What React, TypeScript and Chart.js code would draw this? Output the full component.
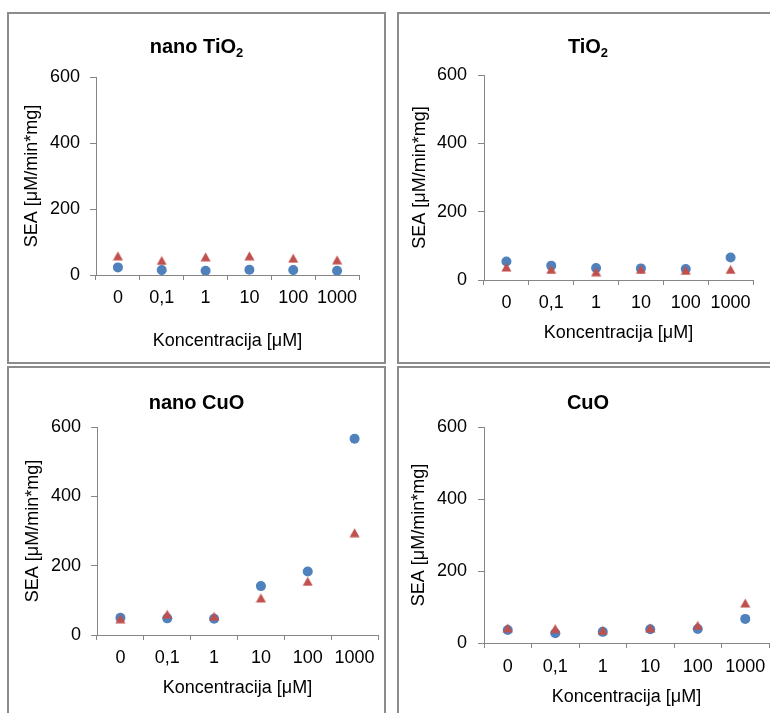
import { useEffect, useRef } from "react";
import { Chart, registerables } from "chart.js";

Chart.register(...registerables);

// Concentration categories on the x axis
const categories = ["0", "0,1", "1", "10", "100", "1000"];
const yMin = 0;
const yMax = 600;
const yStep = 200;

// SEA values per material (blue circles / red triangles)
const nanoTiO2Blue = [23, 15, 13, 16, 15, 13];
const nanoTiO2Red = [58, 44, 55, 58, 51, 46];
const tiO2Blue = [54, 42, 35, 34, 32, 66];
const tiO2Red = [38, 31, 24, 31, 28, 31];
const nanoCuOBlue = [50, 48, 47, 141, 183, 566];
const nanoCuORed = [47, 60, 54, 107, 155, 295];
const cuOBlue = [36, 27, 31, 38, 39, 67];
const cuORed = [42, 40, 35, 42, 49, 111];

const xAxisTitle = "Koncentracija [μM]";
const yAxisTitle = "SEA [μM/min*mg]";

const BLUE = "#4F81BD";
const RED = "#C0504D";
const AXIS_GRAY = "#868686";
const FONT_FAMILY = "'Liberation Sans', Arial, Helvetica, sans-serif";
const TEXT_SIZE = 18;
const LINE_HEIGHT = TEXT_SIZE * 1.2;

type TitlePart = { text: string; sub?: boolean };

type PanelLayout = {
  box: { left: number; top: number; width: number; height: number };
  area: { left: number; top: number; right: number; bottom: number };
  yTitleX: number;
  xTitleGap: number;
  titleBaseline: number;
  yTickPad: number;
  xTickPad: number;
};

type PanelSpec = {
  title: TitlePart[];
  blue: number[];
  red: number[];
  layout: PanelLayout;
};

// Bold panel heading with a lowered, smaller subscript part
const panelTitlePlugin = {
  id: "panelTitle",
  afterDraw(chart: any, _args: any, opts: any) {
    const parts: TitlePart[] = opts.parts || [];
    const ctx: CanvasRenderingContext2D = chart.ctx;
    const mainFont = `bold 20px ${FONT_FAMILY}`;
    const subFont = `bold 13px ${FONT_FAMILY}`;
    ctx.save();
    const widths = parts.map((p) => {
      ctx.font = p.sub ? subFont : mainFont;
      return ctx.measureText(p.text).width;
    });
    const total = widths.reduce((a, b) => a + b, 0);
    let x = chart.width / 2 - total / 2;
    ctx.fillStyle = "#000";
    ctx.textAlign = "left";
    ctx.textBaseline = "alphabetic";
    parts.forEach((p, i) => {
      ctx.font = p.sub ? subFont : mainFont;
      ctx.fillText(p.text, x, opts.baseline + (p.sub ? 4 : 0));
      x += widths[i];
    });
    ctx.restore();
  },
};

function makeTriangle(color: string): HTMLCanvasElement {
  const c = document.createElement("canvas");
  c.width = 11;
  c.height = 10;
  const g = c.getContext("2d")!;
  g.fillStyle = color;
  g.beginPath();
  g.moveTo(5.5, 0.5);
  g.lineTo(10.5, 9.5);
  g.lineTo(0.5, 9.5);
  g.closePath();
  g.fill();
  return c;
}

const panels: PanelSpec[] = [
  {
    title: [{ text: "nano TiO" }, { text: "2", sub: true }],
    blue: nanoTiO2Blue,
    red: nanoTiO2Red,
    layout: {
      box: { left: 7, top: 12, width: 379, height: 352 },
      area: { left: 87, top: 63, right: 350, bottom: 261 },
      yTitleX: 22.7,
      xTitleGap: 65.7,
      titleBaseline: 39.3,
      yTickPad: 10,
      xTickPad: 7,
    },
  },
  {
    title: [{ text: "TiO" }, { text: "2", sub: true }],
    blue: tiO2Blue,
    red: tiO2Red,
    layout: {
      box: { left: 397, top: 12, width: 382, height: 352 },
      area: { left: 85, top: 61, right: 354, bottom: 266 },
      yTitleX: 20.7,
      xTitleGap: 53.3,
      titleBaseline: 39.3,
      yTickPad: 11,
      xTickPad: 7,
    },
  },
  {
    title: [{ text: "nano CuO" }],
    blue: nanoCuOBlue,
    red: nanoCuORed,
    layout: {
      box: { left: 7, top: 366, width: 379, height: 360 },
      area: { left: 88, top: 59, right: 369, bottom: 267 },
      yTitleX: 24.3,
      xTitleGap: 53.3,
      titleBaseline: 41.3,
      yTickPad: 10,
      xTickPad: 7,
    },
  },
  {
    title: [{ text: "CuO" }],
    blue: cuOBlue,
    red: cuORed,
    layout: {
      box: { left: 397, top: 366, width: 382, height: 360 },
      area: { left: 85, top: 59, right: 370, bottom: 275 },
      yTitleX: 20.3,
      xTitleGap: 53.7,
      titleBaseline: 41,
      yTickPad: 11,
      xTickPad: 8,
    },
  },
];

const BORDER = 2;

function Panel({ spec }: { spec: PanelSpec }) {
  const ref = useRef<HTMLCanvasElement | null>(null);
  const { box, area } = spec.layout;
  const cw = box.width - BORDER * 2;
  const ch = box.height - BORDER * 2;

  useEffect(() => {
    if (!ref.current) return;
    const L = spec.layout;
    const xAxisHeight = L.xTitleGap + LINE_HEIGHT / 2;
    const tickFont = { family: FONT_FAMILY, size: TEXT_SIZE };
    const chart = new Chart(ref.current, {
      type: "line",
      data: {
        labels: categories,
        datasets: [
          {
            label: "blue",
            data: spec.blue,
            showLine: false,
            order: 1,
            pointStyle: "circle",
            pointRadius: 5,
            pointBackgroundColor: BLUE,
            pointBorderWidth: 0,
            borderColor: BLUE,
            backgroundColor: BLUE,
          },
          {
            label: "red",
            data: spec.red,
            showLine: false,
            order: 0,
            pointStyle: makeTriangle(RED),
            pointRadius: 5,
            pointBackgroundColor: RED,
            pointBorderWidth: 0,
            borderColor: RED,
            backgroundColor: RED,
          },
        ],
      },
      options: {
        responsive: false,
        animation: false,
        events: [],
        layout: {
          padding: {
            left: 0,
            top: L.area.top,
            right: cw - L.area.right,
            bottom: ch - L.area.bottom - xAxisHeight,
          },
        },
        plugins: {
          legend: { display: false },
          title: { display: false },
          tooltip: { enabled: false },
          panelTitle: { parts: spec.title, baseline: L.titleBaseline },
        } as any,
        scales: {
          x: {
            type: "category",
            offset: true,
            grid: {
              display: true,
              drawOnChartArea: false,
              drawTicks: true,
              tickLength: 5,
              offset: true,
              color: AXIS_GRAY,
            },
            border: { display: true, color: AXIS_GRAY, width: 1 },
            ticks: {
              autoSkip: false,
              maxRotation: 0,
              minRotation: 0,
              padding: L.xTickPad,
              color: "#000",
              font: tickFont,
            },
            title: {
              display: true,
              text: xAxisTitle,
              color: "#000",
              font: tickFont,
              padding: { top: 0, bottom: 0 },
            },
            afterFit: (s: any) => {
              s.height = xAxisHeight;
            },
          },
          y: {
            min: yMin,
            max: yMax,
            grid: {
              display: true,
              drawOnChartArea: false,
              drawTicks: true,
              tickLength: 6,
              color: AXIS_GRAY,
            },
            border: { display: true, color: AXIS_GRAY, width: 1 },
            ticks: {
              stepSize: yStep,
              padding: L.yTickPad,
              color: "#000",
              font: tickFont,
            },
            title: {
              display: true,
              text: yAxisTitle,
              color: "#000",
              font: tickFont,
              padding: { top: L.yTitleX - LINE_HEIGHT / 2, bottom: 0 },
            },
            afterFit: (s: any) => {
              s.width = L.area.left;
            },
          },
        },
      },
      plugins: [panelTitlePlugin],
    });
    return () => chart.destroy();
  }, [spec]);

  return (
    <div
      style={{
        position: "absolute",
        left: box.left,
        top: box.top,
        width: box.width,
        height: box.height,
        boxSizing: "border-box",
        border: `${BORDER}px solid #8c8c8c`,
        background: "#fff",
      }}
    >
      <canvas
        ref={ref}
        width={cw}
        height={ch}
        style={{ display: "block", width: cw, height: ch }}
      />
    </div>
  );
}

export default function App() {
  return (
    <div
      style={{
        position: "fixed",
        left: 0,
        top: 0,
        width: 770,
        height: 713,
        overflow: "hidden",
        background: "#fff",
      }}
    >
      {panels.map((p, i) => (
        <Panel key={i} spec={p} />
      ))}
    </div>
  );
}
